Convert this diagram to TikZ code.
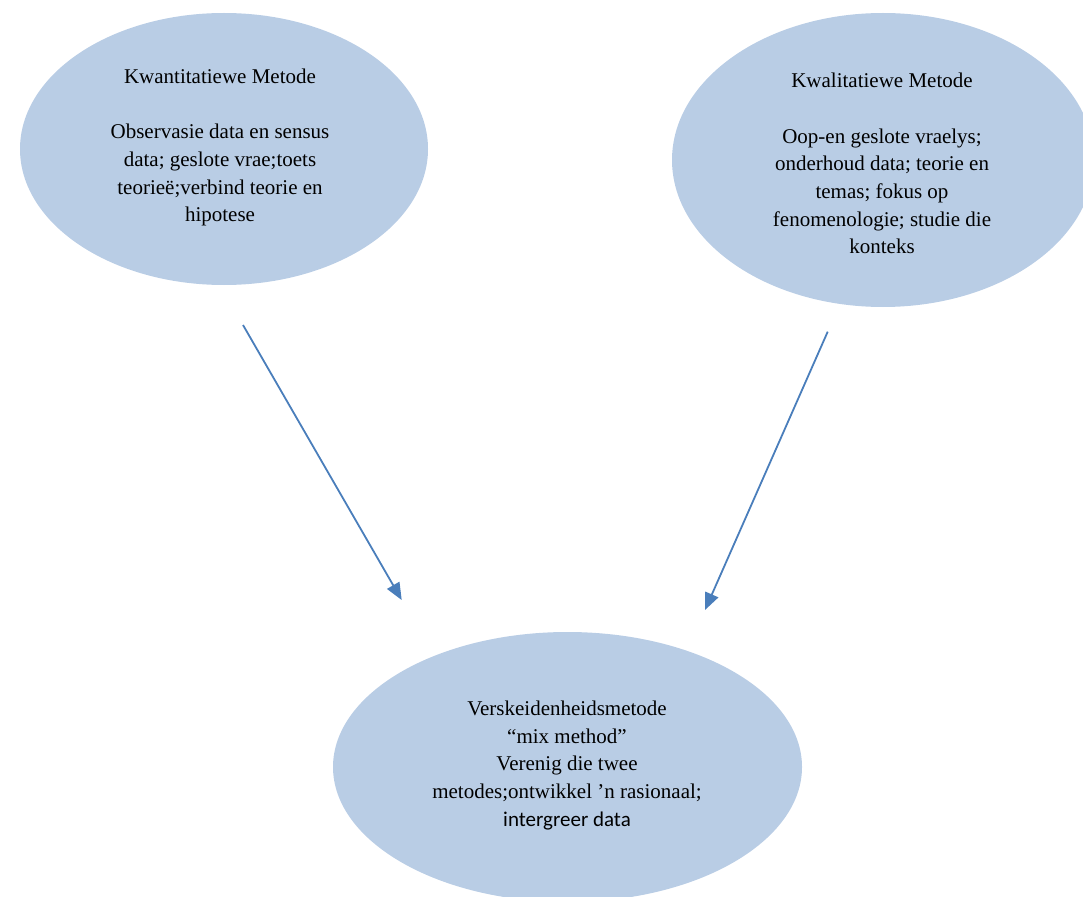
\documentclass[tikz,border=0pt]{standalone}
\usepackage{fontspec}
\setmainfont{Liberation Serif}
\newfontfamily\carlito{Carlito}
\usetikzlibrary{arrows.meta,shapes.geometric}
\definecolor{ellfill}{HTML}{B9CDE5}
\definecolor{arrowblue}{HTML}{4A7EBB}
\tikzset{
  blob/.style={ellipse, fill=ellfill, draw=none, inner sep=0pt},
  blobtext/.style={align=center, inner sep=0pt, font=\fontsize{21}{27.7}\selectfont},
  link/.style={draw=arrowblue, line width=1.8pt, -{Triangle[length=17pt,width=14pt]}}
}
\begin{document}
\begin{tikzpicture}[x=1pt,y=-1pt]
\useasboundingbox (0,0) rectangle (1083,896);
\clip (0,0) rectangle (1083,896);
\node[blob, minimum width=408pt, minimum height=272pt] (quant) at (224,149) {};
\node[blob, minimum width=422pt, minimum height=294pt] (qual) at (883,160) {};
\node[blob, minimum width=469pt, minimum height=270pt] (mix) at (567.5,767) {};
\node[blobtext] (quanttext) at (220,147.5) {Kwantitatiewe Metode\\[27.7pt]Observasie data en sensus\\data; geslote vrae;toets\\teorieë;verbind teorie en\\hipotese};
\node[blobtext] (qualtext) at (882,163.7) {Kwalitatiewe Metode\\[27.7pt]Oop-en geslote vraelys;\\onderhoud data; teorie en\\temas; fokus op\\fenomenologie; studie die\\konteks};
\node[blobtext] (mixtext) at (567,765.5) {Verskeidenheidsmetode\\“mix method”\\Verenig die twee\\metodes;ontwikkel ’n rasionaal;\\{\carlito intergreer data}};
\coordinate (s1) at (243,325);
\coordinate (e1) at (401.7,600);
\coordinate (s2) at (827.7,331.7);
\coordinate (e2) at (705,610);
\draw[link] (s1) -- (e1);
\draw[link] (s2) -- (e2);
\end{tikzpicture}
\end{document}
